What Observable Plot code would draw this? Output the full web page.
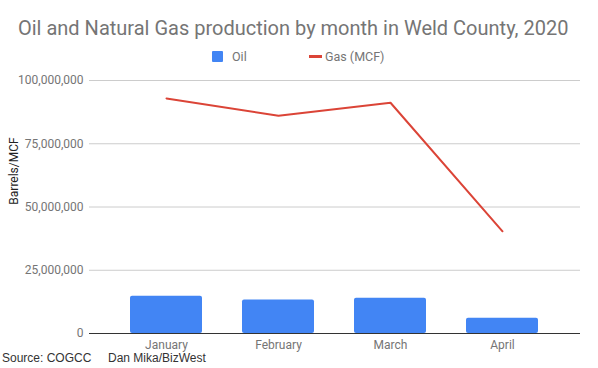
<!DOCTYPE html>
<html>
<head>
<meta charset="utf-8">
<script src="https://cdn.jsdelivr.net/npm/d3@7"></script>
<script src="https://cdn.jsdelivr.net/npm/@observablehq/plot@0.6"></script>
<style>
  html, body { margin: 0; padding: 0; background: #fff; }
  #wrap { position: relative; width: 598px; height: 368px; overflow: hidden; font-family: Roboto, sans-serif; }
  #title { position: absolute; left: 18px; top: 18px; font-size: 20px; line-height: 1; color: #757575; white-space: nowrap; }
  .leg { position: absolute; font-size: 12.5px; line-height: 1; color: #757575; white-space: nowrap; }
  #chart { position: absolute; left: 0; top: 70px; }
  #ylab { position: absolute; left: 14px; top: 171px; transform: translate(-50%, -50%) rotate(-90deg); font-size: 12px; line-height: 1; color: #222; white-space: nowrap; }
  .cap { position: absolute; top: 352px; font-family: "Liberation Sans", Arial, sans-serif; font-size: 12px; line-height: 1; color: #333; white-space: nowrap; }
</style>
</head>
<body>
<div id="wrap">
  <div id="title">Oil and Natural Gas production by month in Weld County, 2020</div>
  <div class="leg" style="left:212px;top:51px;width:11px;height:11px;background:#4285f4;border-radius:1px"></div>
  <div class="leg" style="left:232px;top:51px">Oil</div>
  <div class="leg" style="left:309px;top:55px;width:13px;height:3px;background:#db4437"></div>
  <div class="leg" style="left:325px;top:51px">Gas (MCF)</div>
  <div id="chart"></div>
  <div id="ylab">Barrels/MCF</div>
  <div class="cap" style="left:2px">Source: COGCC</div>
  <div class="cap" style="left:108px">Dan Mika/BizWest</div>
</div>
<script>
const months = ["January", "February", "March", "April"];
const oil = [14700000, 13200000, 13900000, 6000000];
const gas = [92900000, 86100000, 91200000, 40400000];
const yTicks = [0, 25000000, 50000000, 75000000, 100000000];

const data = months.map((m, i) => ({month: m, oil: oil[i], gas: gas[i]}));
const fmt = d3.format(",");

const chart = Plot.plot({
  width: 598,
  height: 298,
  marginTop: 10,
  marginBottom: 35,
  marginLeft: 89,
  marginRight: 18,
  style: {fontFamily: "Roboto, sans-serif", fontSize: "12px", color: "#757575", background: "transparent"},
  x: {domain: months, padding: 0.354, label: null, tickSize: 0, tickPadding: 7},
  y: {domain: [0, 100000000], ticks: yTicks, tickFormat: fmt, label: null, tickSize: 0, tickPadding: 6},
  marks: [
    Plot.ruleY(yTicks.filter(d => d > 0), {stroke: "#cccccc", strokeWidth: 1}),
    Plot.barY(data, {x: "month", y: "oil", fill: "#4285f4", rx: 2}),
    Plot.ruleY([0], {stroke: "#333333", strokeWidth: 1}),
    Plot.line(data, {x: "month", y: "gas", stroke: "#db4437", strokeWidth: 2})
  ]
});
document.getElementById("chart").appendChild(chart);
</script>
</body>
</html>
